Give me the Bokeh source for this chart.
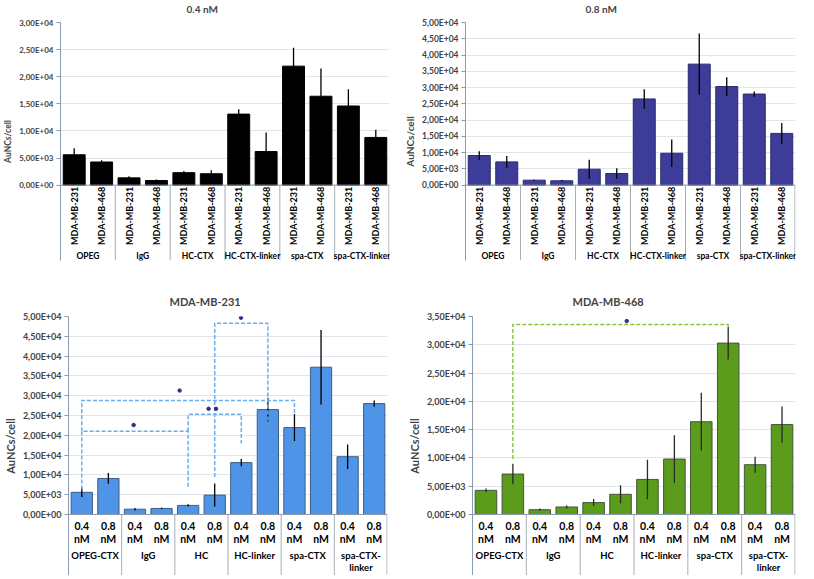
import math
from bokeh.plotting import figure
from bokeh.models import Range1d, FixedTicker, Title
from bokeh.layouts import row, column
from bokeh.embed import file_html
from bokeh.resources import INLINE
from bokeh.core.properties import value

# ---------------- data ----------------
cells = ["MDA-MB-231", "MDA-MB-468"]
groups_conc = ["OPEG", "IgG", "HC-CTX", "HC-CTX-linker", "spa-CTX", "spa-CTX-linker"]
groups_cell = [["OPEG-CTX"], ["IgG"], ["HC"], ["HC-linker"], ["spa-CTX"], ["spa-CTX-", "linker"]]
conc_labels = ["0.4", "0.8"]
conc_unit = "nM"

mean_231_04 = [5600, 1340, 2300, 13100, 21950, 14600]
err_231_04 = [1200, 300, 300, 900, 3400, 3100]
mean_468_04 = [4270, 850, 2100, 6200, 16400, 8800]
err_468_04 = [330, 190, 650, 3500, 5100, 1400]
mean_231_08 = [9100, 1530, 4900, 26500, 37200, 28000]
err_231_08 = [1350, 150, 2900, 3000, 9400, 800]
mean_468_08 = [7150, 1330, 3570, 9800, 30300, 15900]
err_468_08 = [1800, 250, 1600, 4200, 2900, 3200]

# significance brackets (bar index, value)
br231_x = [[0.5, 0.5, 4.5, 4.5], [0.5, 0.5, 8.5, 8.5], [4.5, 4.5, 6.5, 6.5], [5.5, 5.5, 7.5, 7.5]]
br231_y = [[6300, 21000, 21000, 7000], [21000, 28800, 28800, 25300],
           [21000, 25300, 25300, 17900], [9500, 48300, 48300, 23300]]
star231_x = [2.45, 4.18, 5.27, 5.55, 6.49]
star231_y = [22600, 31300, 26700, 26700, 49700]
br468_x = [[1.5, 1.5, 9.5, 9.5]]
br468_y = [[9800, 33600, 33600, 33000]]
star468_x = [5.73]
star468_y = [34200]

FONT = value("Lato")
AXIS_COL = "#8a9bb0"
GRID_COL = "#dfe5ec"
SEP_COL = "#a6aeb8"


def fmt(v):
    return ("%.2E" % v).replace(".", ",")


def make_panel(title, tops, errs, ymax, fill, line, errc, w, h, bl, br, bt, bb, cat_px,
               title_off, title_size, tick_size, ylab_size, spacer_size):
    frame_h = h - bt - bb
    data_px = frame_h - cat_px
    ystart = -ymax * cat_px / data_px

    def ypx(px):
        return -ymax * px / data_px

    p = figure(width=w, height=h, output_backend="svg", toolbar_location=None,
               x_range=Range1d(0, 12), y_range=Range1d(ystart, ymax),
               x_axis_location=None, min_border_left=bl, min_border_right=br,
               min_border_top=bt, min_border_bottom=bb, title=None)
    p.outline_line_color = None
    p.xgrid.visible = False
    # spacer title (closest to the frame) pushes the real title upward
    p.add_layout(Title(text=" ", text_font_size=spacer_size, standoff=0), "above")
    p.add_layout(Title(text=title, text_font="Lato", text_font_size=title_size,
                       text_font_style="bold", align="left", offset=title_off,
                       standoff=0), "above")

    ticks = list(range(0, ymax + 1, 5000))
    ax = p.yaxis[0]
    ax.ticker = FixedTicker(ticks=ticks)
    ax.major_label_overrides = {t: fmt(t) for t in ticks}
    ax.major_label_text_font = "Lato"
    ax.major_label_text_font_style = "bold"
    ax.major_label_text_font_size = tick_size
    ax.major_label_standoff = 3
    ax.major_tick_in = 0
    ax.major_tick_out = 4
    ax.minor_tick_in = 0
    ax.minor_tick_out = 0
    ax.axis_line_color = AXIS_COL
    ax.major_tick_line_color = AXIS_COL
    ax.axis_label = "AuNCs/cell"
    ax.axis_label_text_font = "Lato"
    ax.axis_label_text_font_style = "bold"
    ax.axis_label_text_font_size = ylab_size
    ax.axis_label_standoff = 3
    p.ygrid.grid_line_color = GRID_COL
    p.ygrid.ticker = FixedTicker(ticks=ticks)

    xs, ys, es = [], [], []
    for j in range(2):
        for g in range(6):
            xs.append(2 * g + j + 0.5)
            ys.append(tops[j][g])
            es.append(errs[j][g])
    p.vbar(x=xs, top=ys, width=0.8, fill_color=fill, line_color=line, line_width=1)
    p.segment(x0=xs, y0=[y - e for y, e in zip(ys, es)], x1=xs,
              y1=[y + e for y, e in zip(ys, es)], line_color=errc, line_width=1.3)
    # baseline and category table
    p.segment(x0=[0], y0=[0], x1=[12], y1=[0], line_color=AXIS_COL, line_width=1)
    seps = [0, 2, 4, 6, 8, 10, 11.98]
    p.segment(x0=seps, y0=[0] * len(seps), x1=seps, y1=[ystart] * len(seps),
              line_color=SEP_COL, line_width=1)
    return p, ypx


# ---------- top row ----------
p1, y1 = make_panel("0.4 nM", [mean_231_04, mean_468_04], [err_231_04, err_468_04], 30000,
                    "#000000", "#000000", "#000000", 399, 290, 49, 10, 20, 30, 76,
                    126, "10px", "8px", "8.5px", "5px")
p2, y2 = make_panel("0.8 nM", [mean_231_08, mean_468_08], [err_231_08, err_468_08], 50000,
                    "#3d3c99", "#2a2a70", "#000000", 399, 290, 66, 3, 20, 30, 76,
                    120, "10px", "8.5px", "10px", "5px")

for p, ypx in ((p1, y1), (p2, y2)):
    sx, sy, st = [], [], []
    for g in range(6):
        for j in range(2):
            sx.append(2 * g + j + 0.5)
            sy.append(ypx(31))
            st.append(cells[j])
    p.text(x=sx, y=sy, text=st, angle=math.pi / 2, text_align="center",
           text_baseline="middle", text_font=FONT, text_font_style="bold",
           text_font_size="9px", text_color="#000000")
    gx = [2 * g + 1 for g in range(6)]
    p.text(x=gx, y=[ypx(71)] * 6, text=groups_conc, text_align="center",
           text_baseline="middle", text_font=FONT, text_font_style="bold",
           text_font_size="8.5px", text_color="#000000")

# ---------- bottom row ----------
p3, y3 = make_panel("MDA-MB-231", [mean_231_04, mean_231_08], [err_231_04, err_231_08], 50000,
                    "#4f94e6", "#3d5f85", "#000000", 399, 285, 54, 12, 26, 0, 61,
                    101, "11px", "9px", "11px", "7px")
p4, y4 = make_panel("MDA-MB-468", [mean_468_04, mean_468_08], [err_468_04, err_468_08], 35000,
                    "#5c9c1c", "#44553a", "#2a2a2a", 399, 285, 73, 3, 26, 0, 61,
                    100, "11px", "9px", "11px", "7px")

p3.multi_line(xs=br231_x, ys=br231_y, line_color="#66aeee", line_width=1.5, line_dash="4 2")
p3.scatter(x=star231_x, y=star231_y, size=3.5, marker="circle", fill_color="#3b2a8c",
           line_color="#3b2a8c")
p4.multi_line(xs=br468_x, ys=br468_y, line_color="#8cc63f", line_width=1.5, line_dash="4 2")
p4.scatter(x=star468_x, y=star468_y, size=3.5, marker="circle", fill_color="#3b2a8c",
           line_color="#3b2a8c")

for p, ypx in ((p3, y3), (p4, y4)):
    sx, st = [], []
    for g in range(6):
        for j in range(2):
            sx.append(2 * g + j + 0.5)
            st.append(conc_labels[j])
    kw = dict(text_align="center", text_baseline="middle", text_font=FONT,
              text_font_style="bold", text_color="#000000")
    p.text(x=sx, y=[ypx(11)] * 12, text=st, text_font_size="10.5px", **kw)
    p.text(x=sx, y=[ypx(24)] * 12, text=[conc_unit] * 12, text_font_size="10.5px", **kw)
    gx, gy, gt = [], [], []
    for g, lines in enumerate(groups_cell):
        for k, t in enumerate(lines):
            gx.append(2 * g + 1)
            gy.append(ypx(41 + 12 * k))
            gt.append(t)
    p.text(x=gx, y=gy, text=gt, text_font_size="9.5px", **kw)

layout = column(row(p1, p2), row(p3, p4))
open("out.html", "w").write(file_html(layout, INLINE))
